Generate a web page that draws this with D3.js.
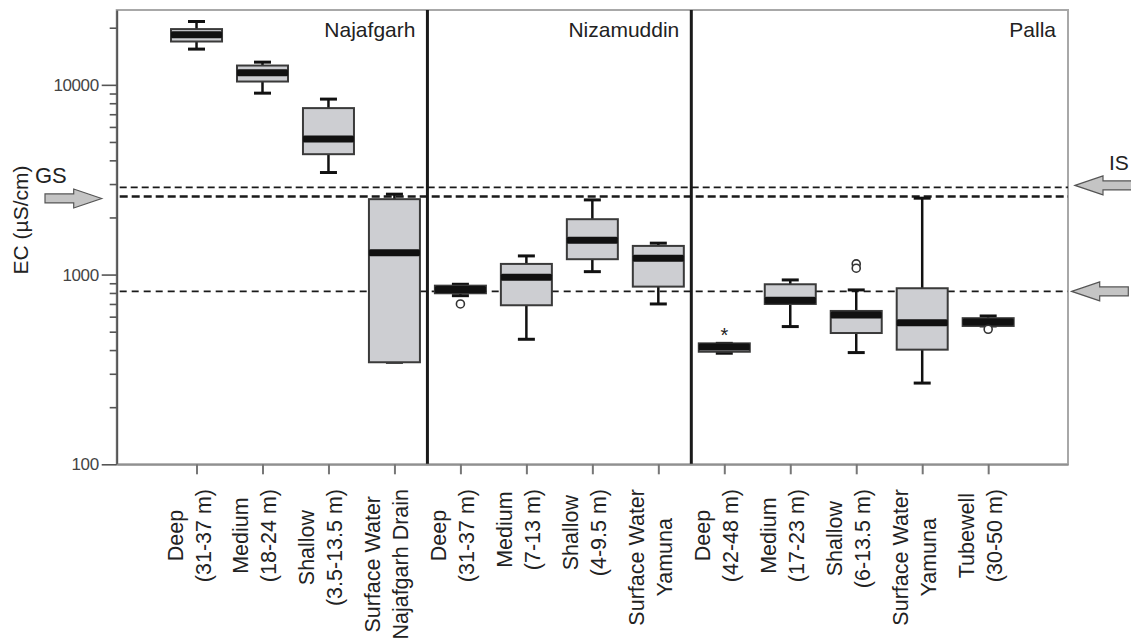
<!DOCTYPE html>
<html>
<head>
<meta charset="utf-8">
<script src="https://cdn.jsdelivr.net/npm/d3@7"></script>
<style>
body { margin: 0; background: #fff; }
svg { display: block; font-family: "Liberation Sans", Arial, sans-serif; }
</style>
</head>
<body>
<script>
// sampling sites, in plotting order
var categories = ["NJ-Deep", "NJ-Medium", "NJ-Shallow", "NJ-Drain",
                  "NZ-Deep", "NZ-Medium", "NZ-Shallow", "NZ-Yamuna",
                  "PL-Deep", "PL-Medium", "PL-Shallow", "PL-Yamuna", "PL-Tubewell"];
var labelTop = ["Deep", "Medium", "Shallow", "Surface Water",
                "Deep", "Medium", "Shallow", "Surface Water",
                "Deep", "Medium", "Shallow", "Surface Water", "Tubewell"];
var labelBottom = ["(31-37 m)", "(18-24 m)", "(3.5-13.5 m)", "Najafgarh Drain",
                   "(31-37 m)", "(7-13 m)", "(4-9.5 m)", "Yamuna",
                   "(42-48 m)", "(17-23 m)", "(6-13.5 m)", "Yamuna", "(30-50 m)"];
var groupNames = ["Najafgarh", "Nizamuddin", "Palla"];
var groupSizes = [4, 4, 5];

// EC in uS/cm
var whiskerLow  = [15430, 9040, 3450, 345, 774, 456, 1036, 700, 385, 532, 388, 268, 536];
var quartile1   = [16920, 10410, 4310, 345, 797, 689, 1205, 864, 392, 700, 492, 402, 536];
var medians     = [18350, 11570, 5190, 1305, 835, 968, 1518, 1220, 415, 732, 613, 558, 563];
var quartile3   = [19670, 12640, 7540, 2497, 874, 1138, 1958, 1416, 434, 889, 643, 847, 589];
var whiskerHigh = [21570, 13170, 8410, 2653, 889, 1254, 2475, 1464, 434, 937, 830, 2527, 605];

var outlierCat = ["NZ-Deep", "PL-Shallow", "PL-Shallow", "PL-Tubewell"];
var outlierVal = [700, 1138, 1080, 515];
var extremeCat = ["PL-Deep"];
var extremeVal = [500];

// guideline levels: IS, GS, lower limit
var guideValues = [2880, 2580, 815];

var majorTicks = [100, 1000, 10000];
var minorTicks = [200, 300, 400, 500, 600, 700, 800, 900,
                  2000, 3000, 4000, 5000, 6000, 7000, 8000, 9000, 20000];

var W = 1131, H = 641;
var pLeft = 116.7, pRight = 1068, pTop = 10, pBottom = 464.3;
var boxW = 51, capW = 17;

var svg = d3.select("body").append("svg").attr("width", W).attr("height", H);

var x = d3.scalePoint().domain(categories).range([pLeft, pRight]).padding(1.21);
var y = d3.scaleLog().domain([100, 24800]).range([pBottom, pTop]);

// frame
svg.append("rect")
    .attr("x", pLeft).attr("y", pTop)
    .attr("width", pRight - pLeft).attr("height", pBottom - pTop)
    .attr("fill", "none").attr("stroke", "#a8a8a8").attr("stroke-width", 2);

// group separators
var sepX = [];
var k = 0;
for (var g = 0; g < groupSizes.length - 1; g++) {
    k += groupSizes[g];
    sepX.push((x(categories[k - 1]) + x(categories[k])) / 2);
}
svg.selectAll(".sep").data(sepX).enter().append("line")
    .attr("x1", function(d) { return d; }).attr("x2", function(d) { return d; })
    .attr("y1", pTop).attr("y2", pBottom)
    .attr("stroke", "#1a1a1a").attr("stroke-width", 3);

// group names, right aligned in each panel
var panelRight = sepX.concat([pRight]);
svg.selectAll(".grp").data(groupNames).enter().append("text")
    .attr("x", function(d, i) { return panelRight[i] - 12; })
    .attr("y", 37)
    .attr("text-anchor", "end")
    .attr("font-size", 21)
    .attr("fill", "#222")
    .text(function(d) { return d; });

// guidelines
var guideDash = ["7,4", "8,4", "7,5"];
var guideWidth = [1.6, 2.6, 1.8];
svg.selectAll(".guide").data(guideValues).enter().append("line")
    .attr("x1", pLeft + 3).attr("x2", pRight)
    .attr("y1", function(d) { return y(d); })
    .attr("y2", function(d) { return y(d); })
    .attr("stroke", "#1a1a1a")
    .attr("stroke-width", function(d, i) { return guideWidth[i]; })
    .attr("stroke-dasharray", function(d, i) { return guideDash[i]; });

// boxes
var data = categories.map(function(c, i) {
    return { c: c, lo: whiskerLow[i], q1: quartile1[i], med: medians[i],
             q3: quartile3[i], hi: whiskerHigh[i] };
});
var box = svg.selectAll(".box").data(data).enter().append("g");

box.append("line")
    .attr("x1", function(d) { return x(d.c); }).attr("x2", function(d) { return x(d.c); })
    .attr("y1", function(d) { return y(d.hi); }).attr("y2", function(d) { return y(d.lo); })
    .attr("stroke", "#111").attr("stroke-width", 2.5);
box.append("line")
    .attr("x1", function(d) { return x(d.c) - capW / 2; })
    .attr("x2", function(d) { return x(d.c) + capW / 2; })
    .attr("y1", function(d) { return y(d.hi); }).attr("y2", function(d) { return y(d.hi); })
    .attr("stroke", "#111").attr("stroke-width", 3);
box.append("line")
    .attr("x1", function(d) { return x(d.c) - capW / 2; })
    .attr("x2", function(d) { return x(d.c) + capW / 2; })
    .attr("y1", function(d) { return y(d.lo); }).attr("y2", function(d) { return y(d.lo); })
    .attr("stroke", "#111").attr("stroke-width", 3);
box.append("rect")
    .attr("x", function(d) { return x(d.c) - boxW / 2; })
    .attr("y", function(d) { return y(d.q3); })
    .attr("width", boxW)
    .attr("height", function(d) { return Math.max(1, y(d.q1) - y(d.q3)); })
    .attr("fill", "#cdced2").attr("stroke", "#3a3a3a").attr("stroke-width", 2);
box.append("rect")
    .attr("x", function(d) { return x(d.c) - boxW / 2; })
    .attr("y", function(d) { return y(d.med) - 3.5; })
    .attr("width", boxW).attr("height", 7)
    .attr("rx", 1.5)
    .attr("fill", "#111");

// outliers and extremes
svg.selectAll(".out").data(outlierVal).enter().append("circle")
    .attr("cx", function(d, i) { return x(outlierCat[i]); })
    .attr("cy", function(d) { return y(d); })
    .attr("r", 4)
    .attr("fill", "#fff").attr("stroke", "#333").attr("stroke-width", 1.6);
svg.selectAll(".ext").data(extremeVal).enter().append("text")
    .attr("x", function(d, i) { return x(extremeCat[i]); })
    .attr("y", function(d) { return y(d) + 10; })
    .attr("text-anchor", "middle")
    .attr("font-size", 20)
    .attr("fill", "#222")
    .text("*");

// y axis
var yAxis = d3.axisLeft(y).tickValues(majorTicks).tickSize(15).tickSizeOuter(0)
    .tickPadding(3).tickFormat(d3.format("d"));
var ya = svg.append("g").attr("transform", "translate(" + pLeft + ",0)").call(yAxis);
ya.select(".domain").attr("stroke", "#555").attr("stroke-width", 2);
ya.selectAll(".tick line").attr("stroke", "#555").attr("stroke-width", 1.6);
ya.selectAll(".tick text")
    .attr("font-size", 17).attr("fill", "#444")
    .attr("font-family", "Liberation Sans, Arial, sans-serif")
    .attr("letter-spacing", -0.4);

var yMinor = d3.axisLeft(y).tickValues(minorTicks).tickSize(7).tickFormat("");
var ym = svg.append("g").attr("transform", "translate(" + pLeft + ",0)").call(yMinor);
ym.select(".domain").remove();
ym.selectAll(".tick line").attr("stroke", "#555").attr("stroke-width", 1.6);

// x axis
var xAxis = d3.axisBottom(x).tickSize(10).tickSizeOuter(0).tickFormat("");
var xa = svg.append("g").attr("transform", "translate(0," + pBottom + ")").call(xAxis);
xa.select(".domain").attr("stroke", "#909090").attr("stroke-width", 2);
xa.selectAll(".tick line").attr("stroke", "#777").attr("stroke-width", 2);

// category labels, two rotated lines each
var labelStart = 489;
var lab = svg.selectAll(".lab").data(categories).enter().append("g");
lab.each(function(c, i) {
    var gsel = d3.select(this);
    var lines = [labelTop[i], labelBottom[i]];
    var ts = lines.map(function(s) {
        return gsel.append("text")
            .attr("text-anchor", "middle")
            .attr("font-size", 21.5)
            .attr("fill", "#222")
            .text(s);
    });
    var L = d3.max(ts, function(t) { return t.node().getComputedTextLength(); });
    var cy = labelStart + L / 2;
    ts.forEach(function(t, j) {
        var bx = x(c) - 14 + j * 28;
        t.attr("transform", "translate(" + bx + "," + cy + ") rotate(-90)");
    });
});

// y title
svg.append("text")
    .attr("transform", "translate(28,220) rotate(-90)")
    .attr("text-anchor", "middle")
    .attr("font-size", 21)
    .attr("fill", "#222")
    .text("EC (\u00b5S/cm)");

// arrows marking the standards
function arrowPath(tipX, cy, tailX) {
    var d = tailX > tipX ? 1 : -1;
    var hl = 28, hh = 9.5, sh = 4.5;
    var p = d3.path();
    p.moveTo(tipX, cy);
    p.lineTo(tipX + d * hl, cy - hh);
    p.lineTo(tipX + d * hl, cy - sh);
    p.lineTo(tailX, cy - sh);
    p.lineTo(tailX, cy + sh);
    p.lineTo(tipX + d * hl, cy + sh);
    p.lineTo(tipX + d * hl, cy + hh);
    p.closePath();
    return p.toString();
}
var arrows = [
    { tip: 101.7, tail: 45, cy: y(guideValues[1]) + 2 },
    { tip: 1075, tail: 1140, cy: y(guideValues[0]) - 2 },
    { tip: 1071.7, tail: 1128.3, cy: y(guideValues[2]) }
];
svg.selectAll(".arrow").data(arrows).enter().append("path")
    .attr("d", function(d) { return arrowPath(d.tip, d.cy, d.tail); })
    .attr("fill", "#c4c4c4").attr("stroke", "#555").attr("stroke-width", 1.2);

svg.append("text").attr("x", 35).attr("y", 183)
    .attr("font-size", 22).attr("fill", "#222").text("GS");
svg.append("text").attr("x", 1109).attr("y", 170)
    .attr("font-size", 21).attr("fill", "#222").text("IS");
</script>
</body>
</html>
